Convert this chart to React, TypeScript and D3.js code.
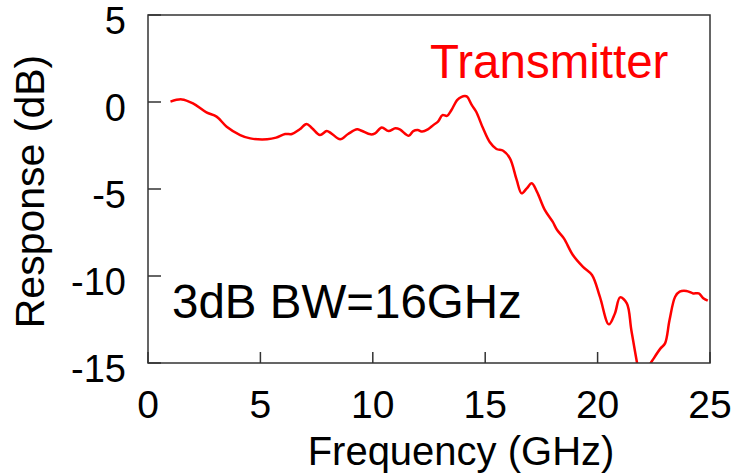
import React from 'react';
import * as d3 from 'd3';

// frequency response of the transmitter

const freq = [
  1.0, 1.5, 2.0, 2.6, 3.05, 3.5, 4.1, 4.55, 5.3, 5.7, 6.1, 6.4, 6.75, 7.05, 7.3, 7.65,
  7.95, 8.15, 8.55, 8.9, 9.3, 9.5, 9.9, 10.1, 10.4, 10.7, 11.0, 11.2, 11.6, 11.8, 12.0,
  12.2, 12.45, 12.7, 12.9, 13.1, 13.3, 13.5, 13.75, 13.95, 14.1, 14.2, 14.4, 14.6, 14.9,
  15.2, 15.5, 15.8, 16.1, 16.4, 16.62, 16.85, 17.07, 17.3, 17.65, 18.0, 18.2, 18.5, 18.9,
  19.35, 19.75, 20.1, 20.5, 20.77, 21.0, 21.3, 21.5, 21.77, 22.0, 22.15, 22.33, 22.5, 22.8,
  23.0, 23.2, 23.45, 23.65, 23.95, 24.25, 24.5, 24.7, 24.9,
];

const response = [
  0.02, 0.15, -0.08, -0.6, -0.84, -1.42, -1.9, -2.09, -2.14, -2.05, -1.84, -1.84, -1.57, -1.26,
  -1.51, -1.9, -1.67, -1.8, -2.14, -1.84, -1.57, -1.65, -1.86, -1.8, -1.46, -1.67, -1.51, -1.57,
  -1.94, -1.67, -1.61, -1.7, -1.57, -1.32, -1.13, -0.75, -0.8, -0.46, 0.11, 0.3, 0.34, 0.3,
  -0.17, -0.56, -1.5, -2.3, -2.7, -2.8, -3.24, -4.48, -5.25, -4.96, -4.67, -5.15, -6.2, -6.88,
  -7.36, -7.84, -8.79, -9.47, -9.94, -11.19, -12.78, -12.15, -11.23, -11.57, -13.1, -15.1,
  -16.6, -17.0, -15.1, -14.73, -14.16, -13.87, -12.53, -11.19, -10.9, -10.86, -11.0, -11.0,
  -11.28, -11.42,
];

const xTicks = [0, 5, 10, 15, 20, 25];
const yTicks = [5, 0, -5, -10, -15];

const W = 737;
const H = 476;
const m = { left: 148, right: 27, top: 15, bottom: 113 };
const font = 'Liberation Sans, Arial, Helvetica, sans-serif';

const App = () => {
  const x = d3.scaleLinear().domain([0, 25]).range([m.left, W - m.right]);
  const y = d3.scaleLinear().domain([-15, 5]).range([H - m.bottom, m.top]);

  const pts = freq.map((f, i) => [f, response[i]] as [number, number]);
  const line = d3
    .line<[number, number]>()
    .x(d => x(d[0]))
    .y(d => y(d[1]))
    .curve(d3.curveCatmullRom.alpha(0.5));

  const x0 = x(0), x1 = x(25), y0 = y(-15), y1 = y(5);

  return (
    <svg width={W} height={H} style={{ position: 'absolute', left: 0, top: 0, background: '#fff' }}>
      <defs>
        <clipPath id="plot">
          <rect x={x0} y={y1} width={x1 - x0} height={y0 - y1} />
        </clipPath>
      </defs>

      {/* ticks, inward */}
      {yTicks.map(t => (
        <line key={'yt' + t} x1={x0} x2={x0 + 13} y1={y(t)} y2={y(t)} stroke="#333" strokeWidth={1.5} />
      ))}
      {xTicks.map(t => (
        <line key={'xt' + t} x1={x(t)} x2={x(t)} y1={y0} y2={y0 - 11} stroke="#333" strokeWidth={1.5} />
      ))}

      <path d={line(pts) || ''} fill="none" stroke="#ff0000" strokeWidth={2.5} clipPath="url(#plot)" />

      <rect x={x0} y={y1} width={x1 - x0} height={y0 - y1} fill="none" stroke="#333" strokeWidth={1.5} />

      {/* tick labels */}
      {yTicks.map(t => (
        <text key={'yl' + t} x={126} y={y(t) + 19} textAnchor="end" fontFamily={font} fontSize={38} fill="#000">
          {t}
        </text>
      ))}
      {xTicks.map(t => (
        <text key={'xl' + t} x={x(t)} y={418} textAnchor="middle" fontFamily={font} fontSize={39} fill="#000">
          {t}
        </text>
      ))}

      <text x={461} y={465} textAnchor="middle" fontFamily={font} fontSize={40} fill="#000">
        Frequency (GHz)
      </text>
      <text
        transform={`translate(44, ${191.5}) rotate(-90)`}
        textAnchor="middle"
        fontFamily={font}
        fontSize={41}
        fill="#000"
      >
        Response (dB)
      </text>

      <text x={430} y={78} fontFamily={font} fontSize={47.5} fill="#ff0000">
        Transmitter
      </text>
      <text x={172} y={318} fontFamily={font} fontSize={47.5} fill="#000">
        3dB BW=16GHz
      </text>
    </svg>
  );
};

export default App;
